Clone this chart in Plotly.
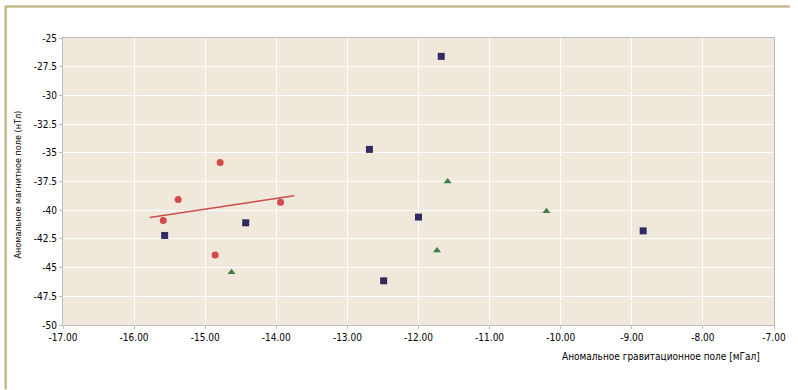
import plotly.graph_objects as go

# Data
blue_x = [-11.68, -12.69, -12.00, -12.49, -8.84, -15.57, -14.43]
blue_y = [-26.6, -34.7, -40.6, -46.15, -41.8, -42.2, -41.1]

green_x = [-11.59, -10.20, -11.74, -14.63]
green_y = [-37.5, -40.1, -43.5, -45.4]

red_x = [-14.79, -15.38, -15.59, -14.86, -13.94]
red_y = [-35.85, -39.07, -40.9, -43.9, -39.3]

trend_x = [-15.78, -13.75]
trend_y = [-40.63, -38.75]

x_ticks = [-17, -16, -15, -14, -13, -12, -11, -10, -9, -8, -7]
x_labels = ["-17.00", "-16.00", "-15.00", "-14.00", "-13.00", "-12.00",
            "-11.00", "-10.00", "-9.00", "-8.00", "-7.00"]
y_ticks = [-25, -27.5, -30, -32.5, -35, -37.5, -40, -42.5, -45, -47.5, -50]
y_labels = ["-25", "-27.5", "-30", "-32.5", "-35", "-37.5", "-40", "-42.5",
            "-45", "-47.5", "-50"]

x_title = "Аномальное гравитационное поле [мГал]"
y_title = "Аномальное магнитное поле (нТл)"

FONT = "Liberation Sans Narrow, DejaVu Sans Condensed, Arial Narrow, sans-serif"

fig = go.Figure()
fig.add_trace(go.Scatter(x=blue_x, y=blue_y, mode="markers",
                         marker=dict(symbol="square", size=7, color="#2f2a60"),
                         showlegend=False))
fig.add_trace(go.Scatter(x=green_x, y=green_y, mode="markers",
                         marker=dict(symbol="triangle-up", size=7, color="#3d7f45"),
                         showlegend=False))
fig.add_trace(go.Scatter(x=red_x, y=red_y, mode="markers",
                         marker=dict(symbol="circle", size=7, color="#d44a48"),
                         showlegend=False))
fig.add_trace(go.Scatter(x=trend_x, y=trend_y, mode="lines",
                         line=dict(color="#cc4b4b", width=1.5),
                         showlegend=False))

L, R, T, B = 63, 16, 37.5, 64.5
W, H = 798, 390
pw = W - L - R
ph = H - T - B

def px_x(p):
    return (p - L) / pw

def px_y(p):
    return (H - B - p) / ph

fig.update_layout(
    width=W, height=H,
    margin=dict(l=L, r=R, t=T, b=B),
    paper_bgcolor="white",
    plot_bgcolor="#f0e8da",
    font=dict(family=FONT, size=10, color="#000000"),
    xaxis=dict(range=[-17, -7], tickvals=x_ticks, ticktext=x_labels,
               showgrid=True, gridcolor="white", gridwidth=1.2,
               showline=True, linecolor="#bdbdbd", mirror=True,
               ticks="outside", ticklen=3, tickcolor="#bdbdbd",
               zeroline=False, tickfont=dict(size=10, family=FONT)),
    yaxis=dict(range=[-50, -25], tickvals=y_ticks, ticktext=y_labels,
               showgrid=True, gridcolor="white", gridwidth=1.2,
               showline=True, linecolor="#bdbdbd", mirror=True,
               ticks="outside", ticklen=3, tickcolor="#bdbdbd",
               zeroline=False, tickfont=dict(size=10, family=FONT)),
    annotations=[
        dict(text=x_title, xref="paper", yref="paper",
             x=px_x(770), y=px_y(357), xanchor="right", yanchor="middle",
             showarrow=False, font=dict(size=10, family=FONT, color="#000000")),
        dict(text=y_title, xref="paper", yref="paper",
             x=px_x(17), y=px_y(185), xanchor="center", yanchor="middle",
             textangle=-90, showarrow=False,
             font=dict(size=9, family=FONT, color="#000000")),
    ],
    shapes=[
        dict(type="line", xref="paper", yref="paper",
             x0=px_x(4), x1=px_x(798), y0=px_y(6), y1=px_y(6),
             line=dict(color="#c6b98e", width=2.5)),
        dict(type="line", xref="paper", yref="paper",
             x0=px_x(5), x1=px_x(5), y0=px_y(6), y1=px_y(390),
             line=dict(color="#c6b98e", width=2.5)),
    ],
)

fig.write_html("out.html",
               config={"displayModeBar": False},
               post_script="document.body.style.margin='0';document.body.style.overflow='hidden';")
